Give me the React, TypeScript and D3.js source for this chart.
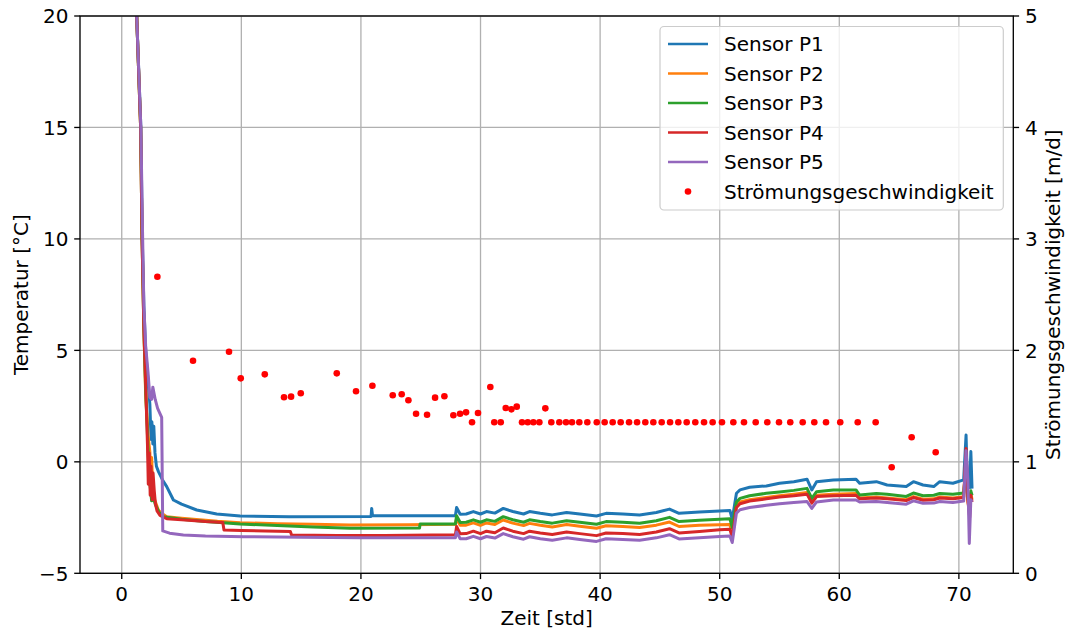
import React from 'react';
import * as d3 from 'd3';

type Pt = [number, number];

// ---- data (time in hours, temperature in °C) ----
const sensorNames = ['Sensor P1', 'Sensor P2', 'Sensor P3', 'Sensor P4', 'Sensor P5'];
const sensorColors = ['#1f77b4', '#ff7f0e', '#2ca02c', '#d62728', '#9467bd'];
const flowLabel = 'Strömungsgeschwindigkeit';

const sensorP1: Pt[] = [
  [0.05, 48], [1.25, 20], [1.6, 15], [1.72, 10], [1.85, 7], [2.0, 5], [2.2, 3.6], [2.35, 2.6], [2.45, 1.0], [2.52, 1.8],
  [2.6, 0.8], [2.68, 1.6], [2.78, 0.4], [2.9, -0.2], [3.07, -0.44], [3.4, -0.8], [3.76, -1.11], [4.32, -1.71], [5.0, -1.9],
  [6.27, -2.16], [7.94, -2.34], [9.9, -2.43], [14, -2.46], [20.85, -2.45], [20.9, -2.09], [20.97, -2.42], [24, -2.42], [27.9, -2.42],
  [28.0, -2.05], [28.3, -2.35], [28.8, -2.34], [29.4, -2.23], [30.0, -2.34], [30.5, -2.23], [31.2, -2.30], [31.9, -2.09],
  [32.7, -2.23], [33.6, -2.34], [34.1, -2.23], [35.0, -2.31], [36.0, -2.38], [37.2, -2.27], [38.3, -2.34], [39.7, -2.43],
  [40.5, -2.31], [41.9, -2.34], [43.3, -2.38], [44.7, -2.27], [45.8, -2.12], [46.6, -2.31], [48.3, -2.25], [50.0, -2.20],
  [50.85, -2.18], [51.05, -2.58],
  [51.4, -1.41], [51.7, -1.26], [52.5, -1.14], [53.9, -1.08], [55.0, -0.96], [56.2, -0.89], [57.3, -0.78], [57.7, -1.26],
  [58.1, -0.89], [59.5, -0.81], [61.4, -0.78], [61.7, -0.96], [63.1, -0.89], [64.0, -1.04], [65.6, -1.11], [66.2, -0.89],
  [67.0, -1.04], [67.9, -1.11], [68.4, -0.89], [69.5, -0.96], [70.4, -0.81],
  [70.6, 1.2], [70.72, -1.1], [70.9, -1.15], [71.0, 0.46], [71.1, -1.2],
];

const sensorP2: Pt[] = [
  [0.05, 48], [1.25, 20], [1.58, 15], [1.7, 10], [1.85, 6], [2.0, 3], [2.2, 1.2], [2.35, 0.45], [2.42, -0.6], [2.5, 0.2],
  [2.6, -1.3], [2.75, -1.7], [3.06, -2.16], [3.3, -2.3], [3.76, -2.46], [5, -2.53], [6.5, -2.6], [8, -2.67], [9.9, -2.73],
  [13, -2.78], [16, -2.8], [19.1, -2.83], [24, -2.82], [27.9, -2.8],
  [28.0, -2.55], [28.3, -2.85], [28.8, -2.84], [29.4, -2.74], [30.0, -2.85], [30.5, -2.74], [31.2, -2.81], [31.9, -2.61],
  [32.7, -2.75], [33.6, -2.86], [34.1, -2.76], [35.0, -2.84], [36.0, -2.92], [37.2, -2.81], [38.3, -2.89], [39.7, -2.98],
  [40.5, -2.87], [41.9, -2.90], [43.3, -2.95], [44.7, -2.84], [45.8, -2.70], [46.6, -2.90], [48.3, -2.85], [50.0, -2.82],
  [50.85, -2.81], [51.05, -3.20],
  [51.4, -1.95], [51.7, -1.80], [52.5, -1.70], [53.9, -1.60], [55.0, -1.52], [56.2, -1.45], [57.3, -1.38], [57.7, -1.80],
  [58.1, -1.50], [59.5, -1.45], [61.4, -1.42], [61.7, -1.62], [63.1, -1.58], [64.0, -1.62], [65.6, -1.70], [66.2, -1.56],
  [67.0, -1.68], [67.9, -1.66], [68.4, -1.58], [69.5, -1.62], [70.4, -1.56],
  [70.6, 0.2], [70.75, -1.8], [70.9, -2.2], [71.0, -1.4], [71.1, -1.7],
];

const sensorP3: Pt[] = [
  [0.05, 48], [1.25, 20], [1.58, 15], [1.7, 10], [1.85, 6], [2.0, 3.2], [2.2, 0.6], [2.3, -0.8], [2.4, -1.2], [2.5, -1.75],
  [2.55, -0.9], [2.65, -1.6], [2.8, -1.9], [3.1, -2.25], [3.48, -2.46], [5, -2.58], [7, -2.68], [9.9, -2.79], [13, -2.86],
  [16, -2.92], [19.1, -2.98], [24.9, -2.97], [24.95, -2.79], [27.9, -2.79],
  [28.0, -2.42], [28.3, -2.72], [28.8, -2.71], [29.4, -2.60], [30.0, -2.71], [30.5, -2.60], [31.2, -2.67], [31.9, -2.46],
  [32.7, -2.60], [33.6, -2.71], [34.1, -2.60], [35.0, -2.68], [36.0, -2.75], [37.2, -2.64], [38.3, -2.71], [39.7, -2.80],
  [40.5, -2.68], [41.9, -2.71], [43.3, -2.75], [44.7, -2.64], [45.8, -2.49], [46.6, -2.68], [48.3, -2.62], [50.0, -2.57],
  [50.85, -2.55], [51.05, -2.95],
  [51.4, -1.80], [51.7, -1.64], [52.5, -1.52], [53.9, -1.41], [55.0, -1.35], [56.2, -1.28], [57.3, -1.19], [57.7, -1.64],
  [58.1, -1.34], [59.5, -1.26], [61.4, -1.26], [61.7, -1.49], [63.1, -1.42], [64.0, -1.45], [65.6, -1.55], [66.2, -1.40],
  [67.0, -1.52], [67.9, -1.50], [68.4, -1.42], [69.5, -1.45], [70.4, -1.40],
  [70.6, -0.2], [70.75, -1.6], [70.9, -2.0], [71.0, -1.3], [71.1, -1.5],
];

const sensorP4: Pt[] = [
  [0.05, 48], [1.25, 20], [1.58, 15], [1.7, 10], [1.85, 6], [2.0, 3.5], [2.15, 0.8], [2.22, -1.0], [2.3, 0.4], [2.38, -1.5],
  [2.45, -0.2], [2.55, -1.7], [2.62, -0.5], [2.72, -1.3], [2.82, -1.9], [2.95, -2.2], [3.2, -2.4], [3.76, -2.55], [5, -2.6],
  [7, -2.68], [8.45, -2.72], [8.55, -3.06], [10, -3.08], [12, -3.1], [14.1, -3.13], [14.2, -3.28], [18, -3.3], [22, -3.3],
  [27.9, -3.27],
  [28.0, -2.90], [28.3, -3.23], [28.8, -3.22], [29.4, -3.11], [30.0, -3.22], [30.5, -3.11], [31.2, -3.18], [31.9, -2.97],
  [32.7, -3.11], [33.6, -3.22], [34.1, -3.11], [35.0, -3.19], [36.0, -3.26], [37.2, -3.15], [38.3, -3.22], [39.7, -3.31],
  [40.5, -3.19], [41.9, -3.22], [43.3, -3.26], [44.7, -3.15], [45.8, -3.00], [46.6, -3.19], [48.3, -3.12], [50.0, -3.05],
  [50.85, -3.02], [51.05, -3.40],
  [51.4, -2.05], [51.7, -1.88], [52.5, -1.76], [53.9, -1.66], [55.0, -1.58], [56.2, -1.52], [57.3, -1.45], [57.7, -1.85],
  [58.1, -1.56], [59.5, -1.52], [61.4, -1.50], [61.7, -1.66], [63.1, -1.62], [64.0, -1.66], [65.6, -1.74], [66.2, -1.60],
  [67.0, -1.72], [67.9, -1.70], [68.4, -1.62], [69.5, -1.66], [70.4, -1.60],
  [70.6, 0.6], [70.75, -1.7], [70.9, -2.5], [71.0, -1.5], [71.1, -1.8],
];

const sensorP5: Pt[] = [
  [0.05, 48], [1.25, 20], [1.6, 15], [1.75, 10], [1.85, 7], [2.0, 5.2], [2.2, 4.0], [2.35, 2.9], [2.5, 2.8], [2.6, 3.35],
  [2.8, 2.8], [3.0, 2.4], [3.34, 2.0], [3.43, -3.1], [4.0, -3.2], [5.15, -3.28], [7, -3.33], [10.2, -3.36], [15, -3.38],
  [20, -3.4], [27.9, -3.4],
  [28.0, -3.15], [28.3, -3.45], [28.8, -3.45], [29.4, -3.34], [30.0, -3.45], [30.5, -3.35], [31.2, -3.42], [31.9, -3.22],
  [32.7, -3.36], [33.6, -3.47], [34.1, -3.36], [35.0, -3.45], [36.0, -3.52], [37.2, -3.41], [38.3, -3.48], [39.7, -3.57],
  [40.5, -3.45], [41.9, -3.48], [43.3, -3.52], [44.7, -3.41], [45.8, -3.27], [46.6, -3.46], [48.3, -3.40], [50.0, -3.35],
  [50.85, -3.33], [51.05, -3.62],
  [51.4, -2.30], [51.7, -2.15], [52.5, -2.05], [53.9, -1.95], [55.0, -1.88], [56.2, -1.82], [57.3, -1.78], [57.7, -2.09],
  [58.1, -1.80], [59.5, -1.71], [61.4, -1.71], [61.7, -1.80], [63.1, -1.78], [64.0, -1.82], [65.6, -1.90], [66.2, -1.75],
  [67.0, -1.86], [67.9, -1.85], [68.4, -1.78], [69.5, -1.82], [70.4, -1.76],
  [70.6, 0.5], [70.75, -0.8], [70.87, -3.66], [71.0, -1.7], [71.1, -1.8],
];

const sensorSeries: Pt[][] = [sensorP1, sensorP2, sensorP3, sensorP4, sensorP5];

// flow velocity (m/d)
const flowTimes: number[] = [
  2.98, 5.96, 8.97, 9.95, 11.96, 13.57, 14.16, 14.97, 17.98, 19.59, 20.96, 22.66, 23.41, 23.97, 24.61, 25.53, 26.2, 26.98,
  27.73, 28.29, 28.79, 29.29, 29.79, 30.82, 31.15, 31.69, 32.11, 32.58, 33.03, 33.47, 33.95, 34.42, 34.92, 35.42, 35.92,
  36.59, 37.15, 37.65, 38.26, 38.93, 39.72, 40.38, 41.05, 41.72, 42.42, 43.09, 43.78, 44.45, 45.15, 45.85, 46.54, 47.24,
  47.96, 48.69, 49.41, 50.19, 51.14, 52.03, 53.01, 53.98, 54.96, 55.9, 56.94, 57.91, 58.89, 60.08, 61.54, 63.04, 64.38,
  66.05, 68.06,
];
const flowValues: number[] = [
  2.661, 1.907, 1.988, 1.749, 1.785, 1.579, 1.585, 1.615, 1.794, 1.633, 1.683, 1.597, 1.606, 1.552, 1.432, 1.423, 1.576, 1.588,
  1.418, 1.432, 1.444, 1.355, 1.438, 1.671, 1.355, 1.355, 1.483, 1.471, 1.495, 1.355, 1.355, 1.355, 1.355, 1.48, 1.355,
  1.355, 1.355, 1.355, 1.355, 1.355, 1.355, 1.355, 1.355, 1.355, 1.355, 1.355, 1.355, 1.355, 1.355, 1.355, 1.355, 1.355,
  1.355, 1.355, 1.355, 1.355, 1.355, 1.355, 1.355, 1.355, 1.355, 1.355, 1.355, 1.355, 1.355, 1.355, 1.355, 1.355, 0.951,
  1.22, 1.086,
];

const xTicks = [0, 10, 20, 30, 40, 50, 60, 70];
const yLeftTicks = [-5, 0, 5, 10, 15, 20];
const yRightTicks = [0, 1, 2, 3, 4, 5];
const xLabel = 'Zeit [std]';
const yLeftLabel = 'Temperatur [°C]';
const yRightLabel = 'Strömungsgeschwindigkeit [m/d]';

export default function App() {
  const W = 1067, H = 632;
  const L = 80, R = 1013.3, T = 16, B = 573.3;
  const font = '"DejaVu Sans", sans-serif';
  const fs = 20;

  const x = d3.scaleLinear().domain([-3.49, 74.55]).range([L, R]);
  const yL = d3.scaleLinear().domain([-5, 20]).range([B, T]);
  const yR = d3.scaleLinear().domain([0, 5]).range([B, T]);
  const line = d3.line<Pt>().x(d => x(d[0])).y(d => yL(d[1]));
  const fmt = d3.format('d');

  const gridColor = '#b0b0b0';
  const tickLen = 5.8;

  // legend geometry
  const lgX0 = 660, lgX1 = 1003.3, lgY0 = 26.5, lgY1 = 210;
  const rowY = (i: number) => 44 + i * 29.5;

  return (
    <svg width={W} height={H} style={{ position: 'absolute', left: 0, top: 0, background: '#fff' }} fontFamily={font}>
      <defs>
        <clipPath id="plotClip">
          <rect x={L} y={T} width={R - L} height={B - T} />
        </clipPath>
      </defs>
      <rect x={0} y={0} width={W} height={H} fill="#fff" />
      {/* grid */}
      <g stroke={gridColor} strokeWidth={1.3}>
        {xTicks.map(t => (
          <line key={'gx' + t} x1={x(t)} x2={x(t)} y1={T} y2={B} />
        ))}
        {yLeftTicks.map(t => (
          <line key={'gy' + t} x1={L} x2={R} y1={yL(t)} y2={yL(t)} />
        ))}
      </g>
      {/* sensor lines */}
      <g clipPath="url(#plotClip)" fill="none" strokeWidth={3} strokeLinejoin="round">
        {sensorSeries.map((s, i) => (
          <path key={'s' + i} d={line(s) || ''} stroke={sensorColors[i]} />
        ))}
      </g>
      {/* flow scatter */}
      <g clipPath="url(#plotClip)" fill="#ff0000">
        {flowTimes.map((t, i) => (
          <circle key={'f' + i} cx={x(t)} cy={yR(flowValues[i])} r={3.3} />
        ))}
      </g>
      {/* spines */}
      <g stroke="#000" strokeWidth={1.33} fill="none">
        <rect x={L} y={T} width={R - L} height={B - T} />
      </g>
      {/* x ticks */}
      <g>
        {xTicks.map(t => (
          <g key={'xt' + t}>
            <line x1={x(t)} x2={x(t)} y1={B} y2={B + tickLen} stroke="#000" strokeWidth={1.33} />
            <text x={x(t)} y={600.5} textAnchor="middle" fontSize={fs} fill="#000">{fmt(t)}</text>
          </g>
        ))}
      </g>
      {/* left y ticks */}
      <g>
        {yLeftTicks.map(t => (
          <g key={'yl' + t}>
            <line x1={L - tickLen} x2={L} y1={yL(t)} y2={yL(t)} stroke="#000" strokeWidth={1.33} />
            <text x={L - tickLen - 5.8} y={yL(t) + 7.3} textAnchor="end" fontSize={fs} fill="#000">{fmt(t)}</text>
          </g>
        ))}
      </g>
      {/* right y ticks */}
      <g>
        {yRightTicks.map(t => (
          <g key={'yr' + t}>
            <line x1={R} x2={R + tickLen} y1={yR(t)} y2={yR(t)} stroke="#000" strokeWidth={1.33} />
            <text x={R + tickLen + 5.8} y={yR(t) + 7.3} textAnchor="start" fontSize={fs} fill="#000">{fmt(t)}</text>
          </g>
        ))}
      </g>
      {/* axis labels */}
      <text x={(L + R) / 2} y={625} textAnchor="middle" fontSize={fs} fill="#000">{xLabel}</text>
      <text transform={`translate(28,${(T + B) / 2}) rotate(-90)`} textAnchor="middle" fontSize={fs} fill="#000">{yLeftLabel}</text>
      <text transform={`translate(1060,${(T + B) / 2}) rotate(-90)`} textAnchor="middle" fontSize={fs} fill="#000">{yRightLabel}</text>
      {/* legend */}
      <g>
        <rect x={lgX0} y={lgY0} width={lgX1 - lgX0} height={lgY1 - lgY0} rx={4} ry={4}
          fill="#fff" fillOpacity={0.8} stroke="#cccccc" strokeWidth={1.2} />
        {sensorNames.map((n, i) => (
          <g key={'lg' + i}>
            <line x1={668} x2={708} y1={rowY(i)} y2={rowY(i)} stroke={sensorColors[i]} strokeWidth={2.6} />
            <text x={724} y={rowY(i) + 7.2} fontSize={fs} fill="#000">{n}</text>
          </g>
        ))}
        <circle cx={688} cy={rowY(5)} r={3.3} fill="#ff0000" />
        <text x={724} y={rowY(5) + 7.2} fontSize={fs} fill="#000">{flowLabel}</text>
      </g>
    </svg>
  );
}
